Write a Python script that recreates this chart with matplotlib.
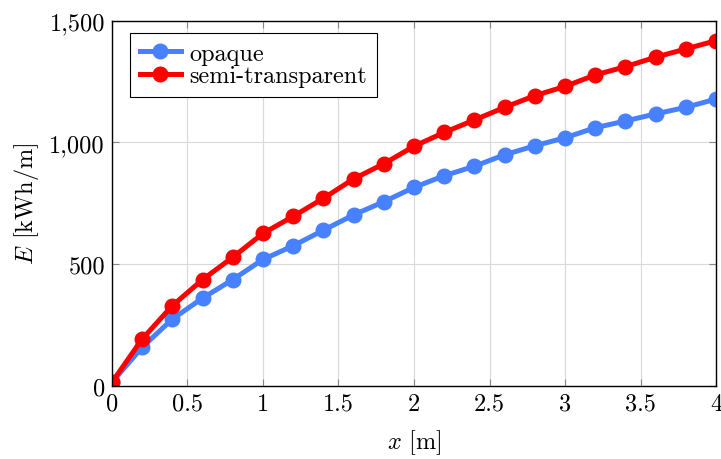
import numpy as np
import matplotlib
matplotlib.use("Agg")
import matplotlib.pyplot as plt
from matplotlib.ticker import FuncFormatter

# Dados
x = [0, 0.2, 0.4, 0.6, 0.8, 1.0, 1.2, 1.4, 1.6, 1.8, 2.0,
     2.2, 2.4, 2.6, 2.8, 3.0, 3.2, 3.4, 3.6, 3.8, 4.0]
opaque = [14, 158, 274, 360, 436, 519, 575, 639, 702, 756, 815,
          863, 902, 949, 986, 1019, 1060, 1088, 1117, 1144, 1178]
semi = [14, 192, 329, 436, 528, 626, 696, 770, 850, 912, 984,
        1041, 1092, 1144, 1192, 1230, 1277, 1311, 1350, 1384, 1418]

plt.rcParams['font.family'] = 'cmr10'
plt.rcParams['mathtext.fontset'] = 'cm'
plt.rcParams['axes.formatter.use_mathtext'] = True

fs = 17.5
fig = plt.figure(figsize=(7.21, 4.60), dpi=100)
ax = fig.add_axes([0.1553, 0.1593, 0.8378, 0.7935])

ax.plot(x, opaque, color='#4781ff', lw=3.6, marker='o', ms=10.5, label='opaque')
ax.plot(x, semi, color='#ff0000', lw=3.6, marker='o', ms=10.5, label='semi-transparent')

ax.set_xlim(0, 4)
ax.set_ylim(0, 1500)
ax.set_xticks(np.arange(0, 4.01, 0.5))
ax.set_yticks([0, 500, 1000, 1500])
ax.xaxis.set_major_formatter(FuncFormatter(lambda v, p: f"{v:g}"))
ax.yaxis.set_major_formatter(FuncFormatter(lambda v, p: f"{int(v):,}"))
ax.tick_params(direction='in', top=True, right=True, length=5, color='#888888',
               labelsize=fs, pad=5)
ax.grid(True, color='#d9d9d9', lw=0.8)
ax.set_axisbelow(True)
for s in ax.spines.values():
    s.set_linewidth(1.0)

ax.set_xlabel(r'$x$ [m]', fontsize=fs, labelpad=9)
ax.set_ylabel(r'$E$ [kWh/m]', fontsize=fs, labelpad=6)

leg = ax.legend(loc='upper left', fontsize=fs, frameon=True, fancybox=False,
                edgecolor='black', framealpha=1, borderpad=0.4, handlelength=1.7,
                labelspacing=0.02, handletextpad=0.35, borderaxespad=0,
                bbox_to_anchor=(0.03, 0.967))
leg.get_frame().set_linewidth(0.8)

plt.savefig('out.png', dpi=100)
